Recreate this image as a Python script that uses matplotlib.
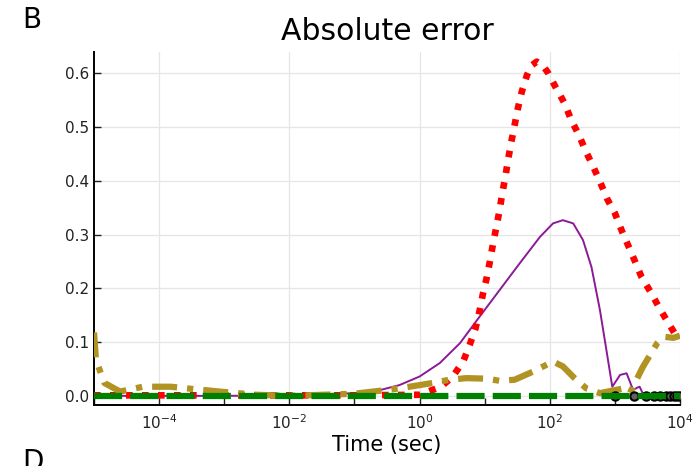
import numpy as np
import matplotlib
matplotlib.use('Agg')
import matplotlib.pyplot as plt

# time points are kept as log10(seconds)
red_logt = [-5, -3, -1, 0, 0.33, 0.51, 0.67, 0.77, 0.86, 0.92, 0.97, 1.03, 1.08, 1.13,
            1.18, 1.23, 1.27, 1.32, 1.36, 1.41, 1.46, 1.51, 1.57, 1.65, 1.72, 1.8, 1.9,
            1.98, 2.1, 2.23, 2.33, 2.45, 2.55, 2.67, 2.78, 2.88, 3.0, 3.1, 3.2, 3.31,
            3.41, 3.56, 3.69, 3.82, 3.95, 4.0]
red_err = [0.001, 0.001, 0.001, 0.002, 0.017, 0.036, 0.064, 0.095, 0.126, 0.157, 0.188,
           0.219, 0.25, 0.284, 0.315, 0.346, 0.377, 0.409, 0.44, 0.473, 0.504, 0.535,
           0.566, 0.597, 0.615, 0.622, 0.614, 0.6, 0.572, 0.544, 0.513, 0.485, 0.456,
           0.426, 0.396, 0.367, 0.34, 0.309, 0.281, 0.25, 0.221, 0.191, 0.162, 0.136,
           0.11, 0.105]

purple_logt = [-5, -3, -2, -1, -0.6, -0.31, 0, 0.31, 0.62, 0.92, 1.23, 1.54, 1.85, 2.05,
               2.2, 2.36, 2.51, 2.64, 2.77, 2.87, 2.96, 3.08, 3.18, 3.28, 3.34, 3.38,
               3.43, 3.6, 4.0]
purple_err = [0.0, 0.0, 0.001, 0.005, 0.011, 0.02, 0.036, 0.061, 0.098, 0.147, 0.197,
              0.247, 0.296, 0.321, 0.327, 0.321, 0.29, 0.24, 0.16, 0.085, 0.017, 0.039,
              0.042, 0.011, 0.015, 0.017, 0.004, 0.002, 0.001]

olive_logt = [-5, -4.97, -4.84, -4.6, -4.25, -4.05, -3.82, -3.58, -3.07, -2.5, -2, -1,
              -0.5, -0.31, 0, 0.2, 0.46, 0.72, 1.03, 1.23, 1.46, 1.74, 2.05, 2.2, 2.38,
              2.56, 2.77, 2.97, 3.1, 3.23, 3.43, 3.65, 3.75, 3.9, 4.0]
olive_err = [0.118, 0.067, 0.024, 0.008, 0.017, 0.017, 0.017, 0.014, 0.008, 0.002, 0.0,
             0.004, 0.011, 0.014, 0.02, 0.024, 0.03, 0.033, 0.032, 0.028, 0.03, 0.045,
             0.064, 0.055, 0.033, 0.014, 0.005, 0.01, 0.013, 0.005, 0.054, 0.098, 0.11,
             0.108, 0.112]

green_logt = [-5, 4]
green_err = [0.0, 0.0]

circle_t = [1000, 2000, 3000, 4000, 5000, 6000, 7000, 8000, 9000, 10000]
circle_err = [0.0] * 10

xticks = [1e-4, 1e-2, 1e0, 1e2, 1e4]
xticklabels = [r'$10^{-4}$', r'$10^{-2}$', r'$10^{0}$', r'$10^{2}$', r'$10^{4}$']
minor_x = [1e-5, 1e-3, 1e-1, 1e1, 1e3]
yticks = [0.0, 0.1, 0.2, 0.3, 0.4, 0.5, 0.6]

fig = plt.figure(figsize=(6.93, 4.66), dpi=100)
ax = fig.add_axes([94/693, 1-405/466, (680-94)/693, (405-52)/466])

ax.plot(10.0**np.array(purple_logt), purple_err, color='#8b1a96', lw=1.4, zorder=3)
ax.plot(10.0**np.array(red_logt), red_err, color='#ff0000', lw=4.8,
        linestyle=(0, (1, 1.4)), dash_capstyle='butt', zorder=4)
ax.plot(10.0**np.array(olive_logt), olive_err, color='#b09322', lw=4.5,
        linestyle=(0, (4, 1.6, 1, 1.6)), dash_capstyle='butt', zorder=5)
ax.plot(circle_t, circle_err, linestyle='none', marker='o', ms=6, mfc='#606060',
        mec='black', mew=1.5, zorder=6)
ax.plot(10.0**np.array(green_logt), green_err, color='#008000', lw=4.5,
        linestyle=(0, (4.5, 1.3)), dash_capstyle='butt', zorder=7)

ax.set_xscale('log')
ax.set_xlim(1e-5, 1e4)
ax.set_ylim(-0.017, 0.64)
ax.set_xticks(xticks)
ax.set_xticklabels(xticklabels)
ax.set_xticks(minor_x, minor=True)
ax.set_xticklabels([''] * len(minor_x), minor=True)
ax.set_yticks(yticks)
ax.set_yticklabels(['%.1f' % v for v in yticks])

ax.grid(True, which='major', color='#e6e6e6', lw=0.9)
ax.set_axisbelow(True)
for s in ['top', 'right']:
    ax.spines[s].set_visible(False)
for s in ['left', 'bottom']:
    ax.spines[s].set_linewidth(1.4)
ax.tick_params(which='both', direction='in', length=5, width=1, labelsize=11,
               colors='#222222')
ax.tick_params(axis='x', pad=6)

ax.set_title('Absolute error', fontsize=21.5, pad=9)
ax.set_xlabel('Time (sec)', fontsize=15, labelpad=2)

fig.text(22/693, 1-20/466, 'B', fontsize=20, va='center', ha='left')
fig.text(22/693, 1-462/466, 'D', fontsize=20, va='center', ha='left')

fig.savefig('out.png', dpi=100)
